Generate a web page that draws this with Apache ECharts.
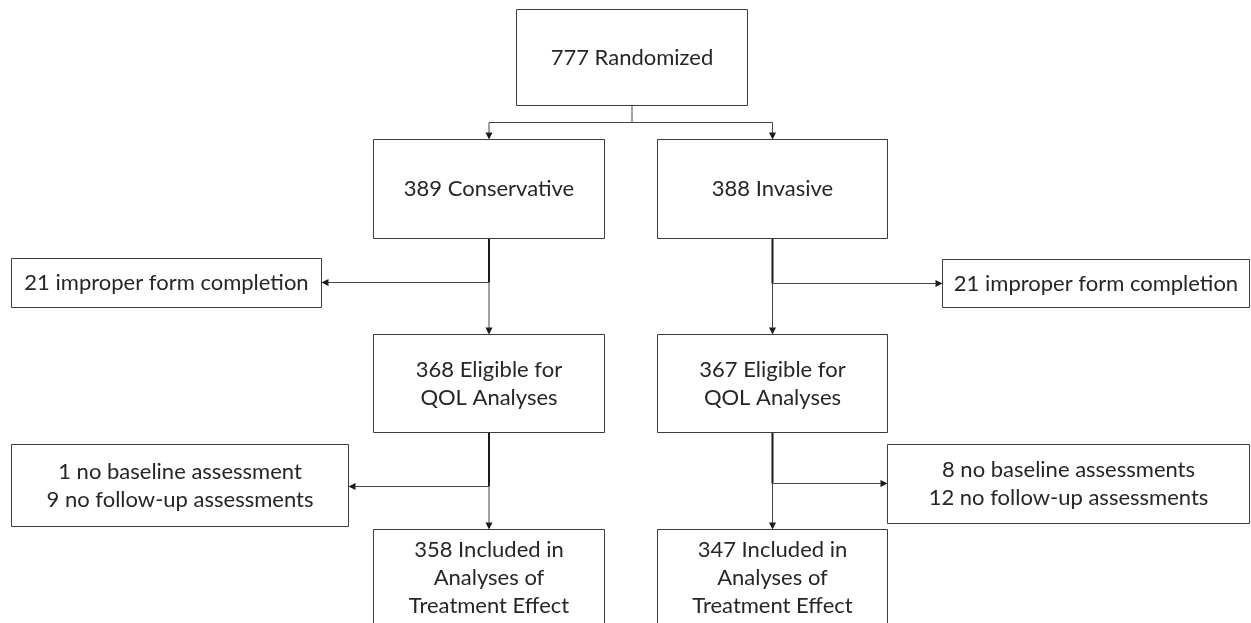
<!DOCTYPE html>
<html>
<head>
<meta charset="utf-8">
<title>QOL flow diagram</title>
<script src="https://cdn.jsdelivr.net/npm/echarts@6/dist/echarts.min.js"></script>
<style>
  html, body { margin: 0; padding: 0; background: #fff; }
  #main { width: 1251px; height: 623px; }
</style>
</head>
<body>
<div id="main"></div>
<script>
// numbers shown in the boxes (first line of each box)
const counts = [777, 389, 388, 21, 21, 368, 367, 1, 8, 358, 347];
const captions = [
  "Randomized", "Conservative", "Invasive",
  "improper form completion", "improper form completion",
  "Eligible for\nQOL Analyses", "Eligible for\nQOL Analyses",
  "no baseline assessment", "no baseline assessments",
  "Included in\nAnalyses of\nTreatment Effect", "Included in\nAnalyses of\nTreatment Effect"
];
// second line of the two "no baseline" boxes
const followUpCounts = [9, 12];
const followUpCaption = "no follow-up assessments";

// box layout, in axis units (axes span the whole canvas): [x0, y0, x1, y1]
const layout = [
  [516.5, 9.5, 747.5, 105.5],
  [373.5, 139.5, 604.5, 238.5],
  [657.5, 139.5, 887.5, 238.5],
  [11.5, 258.5, 321.5, 307.5],
  [942.5, 259.5, 1249.5, 307.5],
  [373.5, 334.5, 604.5, 432.5],
  [657.5, 334.5, 887.5, 432.5],
  [11.5, 444.5, 348.5, 526.5],
  [887.5, 444.5, 1249.5, 523.5],
  [373.5, 529.5, 604.5, 625.5],
  [657.5, 529.5, 887.5, 625.5]
];
const splitY = 122.5;
// [parent, child, side box, branch y]
const steps = [
  [1, 5, 3, 282.5],
  [2, 6, 4, 283.5],
  [5, 9, 7, 486.5],
  [6, 10, 8, 483.5]
];

const labels = counts.map(function (n, i) {
  let t = n + " " + captions[i];
  if (i === 7) t += "\n" + followUpCounts[0] + " " + followUpCaption;
  if (i === 8) t += "\n" + followUpCounts[1] + " " + followUpCaption;
  return t;
});

function cx(i) { return (layout[i][0] + layout[i][2]) / 2; }

// connector segments: [x1, y1, x2, y2, arrow, bold]
const segments = [];
segments.push([cx(0), layout[0][3], cx(0), splitY, 0, 0]);
segments.push([cx(1), splitY, cx(2), splitY, 0, 0]);
segments.push([cx(1), splitY, cx(1), layout[1][1], 1, 0]);
segments.push([cx(2), splitY, cx(2), layout[2][1], 1, 0]);
steps.forEach(function (s) {
  const x = cx(s[0]);
  const side = layout[s[2]];
  const edge = side[2] < x ? side[2] : side[0];
  segments.push([x, layout[s[0]][3], x, s[3], 0, 1]);
  segments.push([x, s[3], x, layout[s[1]][1], 1, 0]);
  segments.push([x, s[3], edge, s[3], 1, 0]);
});

const myChart = echarts.init(document.getElementById("main"));
const option = {
  animation: false,
  grid: { left: 0, right: 0, top: 0, bottom: 0 },
  xAxis: { type: "value", min: 0, max: 1251, show: false },
  yAxis: { type: "value", min: 0, max: 623, inverse: true, show: false },
  series: [
    {
      type: "custom",
      clip: false,
      data: segments,
      encode: { x: [0, 2], y: [1, 3] },
      renderItem: function (params, api) {
        const p1 = api.coord([api.value(0), api.value(1)]);
        const p2 = api.coord([api.value(2), api.value(3)]);
        const arrow = api.value(4) === 1;
        const bold = api.value(5) === 1;
        const children = [];
        let end = p2;
        if (arrow) {
          const dx = p2[0] - p1[0], dy = p2[1] - p1[1];
          const len = Math.sqrt(dx * dx + dy * dy);
          const ux = dx / len, uy = dy / len;
          const bx = p2[0] - ux * 7, by = p2[1] - uy * 7;
          children.push({
            type: "polygon",
            shape: { points: [[p2[0], p2[1]], [bx - uy * 3.5, by + ux * 3.5], [bx + uy * 3.5, by - ux * 3.5]] },
            style: { fill: "#1a1a1a" }
          });
          end = [bx + ux, by + uy];
        }
        children.push({
          type: "line",
          shape: { x1: p1[0], y1: p1[1], x2: end[0], y2: end[1] },
          style: { stroke: bold ? "#1a1a1a" : "#444", lineWidth: bold ? 2 : 1 }
        });
        return { type: "group", children: children };
      }
    },
    {
      type: "custom",
      clip: false,
      data: layout,
      encode: { x: [0, 2], y: [1, 3] },
      renderItem: function (params, api) {
        const tl = api.coord([api.value(0), api.value(1)]);
        const br = api.coord([api.value(2), api.value(3)]);
        return {
          type: "group",
          children: [
            {
              type: "rect",
              shape: { x: tl[0], y: tl[1], width: br[0] - tl[0], height: br[1] - tl[1] },
              style: { fill: "#fff", stroke: "#3c3c3c", lineWidth: 1 }
            },
            {
              type: "text",
              style: {
                x: (tl[0] + br[0]) / 2,
                y: (tl[1] + br[1]) / 2,
                text: labels[params.dataIndex],
                font: "22px Lato",
                fill: "#262626",
                align: "center",
                verticalAlign: "middle",
                lineHeight: 28
              }
            }
          ]
        };
      }
    }
  ]
};
myChart.setOption(option, true);
window.addEventListener("resize", function () {
  myChart.resize();
});
</script>
</body>
</html>
